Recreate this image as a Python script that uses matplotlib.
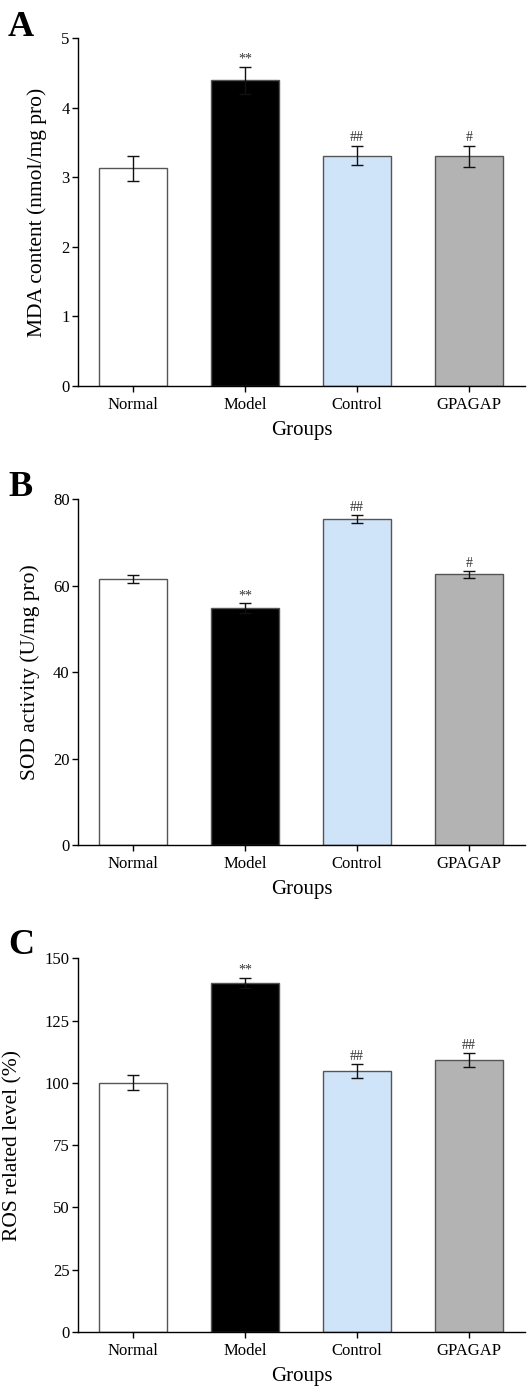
import numpy as np
import matplotlib.pyplot as plt

plt.rcParams['font.family'] = ['Liberation Serif', 'DejaVu Serif']

groups = ["Normal", "Model", "Control", "GPAGAP"]
colors = ["#ffffff", "#000000", "#cfe3f9", "#b3b3b3"]

mda = [3.13, 4.39, 3.31, 3.30]
mda_err = [0.18, 0.20, 0.14, 0.15]
mda_sig = ["", "**", "##", "#"]

sod = [61.6, 54.8, 75.4, 62.6]
sod_err = [0.9, 1.2, 0.9, 0.9]
sod_sig = ["", "**", "##", "#"]

ros = [100.0, 140.0, 104.7, 109.2]
ros_err = [3.0, 2.1, 2.8, 2.9]
ros_sig = ["", "**", "##", "##"]

W, H = 530, 1387
fig = plt.figure(figsize=(W / 100, H / 100), dpi=100)

def panel(top, bottom, vals, errs, sigs, ymax, yticks, ylabel, label_x, letter, letter_y, sig_off):
    ax = fig.add_axes([78 / W, 1 - bottom / H, 447 / W, (bottom - top) / H])
    x = np.arange(len(groups))
    ax.bar(x, vals, width=0.6, color=colors, edgecolor="#555555", linewidth=1.0, zorder=2)
    ax.errorbar(x, vals, yerr=errs, fmt="none", ecolor="#111111", elinewidth=1.0,
                capsize=4, capthick=1.0, zorder=3)
    for i in range(len(groups)):
        if sigs[i]:
            ax.text(x[i], vals[i] + errs[i] + sig_off, sigs[i], ha="center", va="bottom",
                    fontsize=10, color="#333333")
    ax.set_xlim(-0.49, 3.5)
    ax.set_ylim(0, ymax)
    ax.set_yticks(yticks)
    ax.set_xticks(x)
    ax.set_xticklabels(groups, fontsize=12)
    ax.tick_params(axis="y", labelsize=12, length=4, width=1, direction="out", pad=2)
    ax.tick_params(axis="x", length=4, width=1, direction="out", pad=4)
    for s in ["top", "right"]:
        ax.spines[s].set_visible(False)
    for s in ["left", "bottom"]:
        ax.spines[s].set_linewidth(1.0)
    ax.set_xlabel("Groups", fontsize=15, labelpad=6)
    ax.set_ylabel(ylabel, fontsize=15.5)
    # right edge of the rotated label, in pixels
    ax.yaxis.set_label_coords((label_x - 78) / 447, 0.5)
    fig.text(8 / W, 1 - letter_y / H, letter, fontsize=26, fontweight="bold", va="center", ha="left")
    return ax

panel(38, 386, mda, mda_err, mda_sig, 5, [0, 1, 2, 3, 4, 5],
      "MDA content (nmol/mg pro)", 47, "A", 27, 0.02)
panel(499.3, 845, sod, sod_err, sod_sig, 80, [0, 20, 40, 60, 80],
      "SOD activity (U/mg pro)", 40, "B", 488, 0.2)
panel(958.3, 1332, ros, ros_err, ros_sig, 150, [0, 25, 50, 75, 100, 125, 150],
      "ROS related level (%)", 22, "C", 946, 0.4)

fig.savefig("out.png", dpi=100)
